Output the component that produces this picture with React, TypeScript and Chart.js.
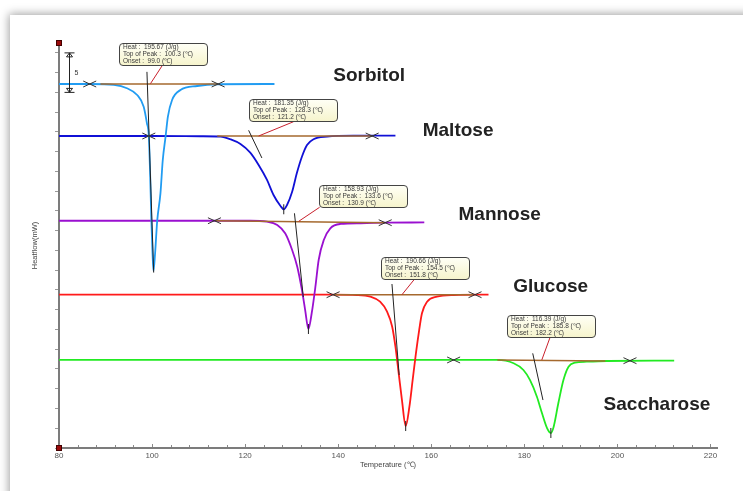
import React, { useEffect, useRef } from "react";
import { Chart, registerables } from "chart.js";

Chart.register(...registerables);

// ---------- data ----------
const sampleNames = ["Sorbitol", "Maltose", "Mannose", "Glucose", "Saccharose"];
const heatValues = ["195.67", "181.35", "158.93", "190.66", "116.39"];
const peakTemps = ["100.3", "128.3", "133.6", "154.5", "185.8"];
const onsetTemps = ["99.0", "121.2", "130.9", "151.8", "182.2"];

const sorbitolT = [80, 86.8, 91.8, 94.6, 96.8, 98.2, 98.9, 99.3, 99.6, 99.85, 100.1, 100.3, 100.65, 101.1, 101.8, 102.3, 102.9, 103.4, 104.3, 106.1, 109.7, 114.0, 126.3];
const sorbitolHF = [46.06, 46.06, 45.94, 45.52, 44.67, 43.19, 41.09, 39.48, 34.33, 28.85, 24.64, 22.4, 24.64, 28.73, 32.23, 36.45, 39.4, 41.93, 44.04, 45.3, 45.81, 46.03, 46.06];

const maltoseT = [80, 100, 110.4, 114.7, 116.8, 119.0, 121.1, 122.9, 124.7, 126.1, 127.6, 128.3, 129.0, 130.1, 131.1, 132.2, 133.3, 134.7, 137.6, 143.3, 152.3];
const maltoseHF = [39.48, 39.48, 39.45, 39.4, 39.07, 38.47, 37.37, 35.81, 33.92, 32.02, 30.63, 30.21, 30.75, 32.43, 34.76, 36.86, 38.34, 39.07, 39.4, 39.52, 39.52];

const mannoseT = [80, 110, 121.1, 124.7, 126.9, 128.6, 130.1, 131.2, 132.2, 132.9, 133.6, 134.3, 135.1, 135.8, 136.9, 138.3, 140.5, 144.8, 150.1, 158.5];
const mannoseHF = [28.76, 28.76, 28.76, 28.64, 28.22, 27.17, 25.06, 22.94, 20.0, 17.46, 15.06, 17.05, 20.41, 23.79, 26.32, 27.8, 28.35, 28.44, 28.51, 28.54];

const glucoseT = [80, 138.9, 144.0, 146.9, 149.0, 150.5, 151.6, 152.3, 153.0, 153.7, 154.5, 155.3, 156.0, 156.7, 157.4, 158.0, 159.1, 161.2, 164.8, 172.3];
const glucoseHF = [19.4, 19.4, 19.36, 19.15, 18.51, 17.25, 15.35, 12.82, 9.45, 6.07, 2.78, 5.23, 8.61, 11.98, 14.93, 17.05, 18.51, 19.15, 19.36, 19.4];

const saccharoseT = [80, 164.8, 174.1, 177.7, 179.8, 181.2, 182.7, 183.8, 184.9, 185.7, 186.3, 187.3, 188.4, 189.5, 190.9, 193.4, 197.7, 212.2];
const saccharoseHF = [11.14, 11.14, 11.14, 10.72, 9.87, 8.61, 6.49, 4.39, 2.49, 1.9, 2.7, 5.66, 8.61, 10.29, 10.79, 10.92, 11.01, 11.05];

const seriesT = [sorbitolT, maltoseT, mannoseT, glucoseT, saccharoseT];
const seriesHF = [sorbitolHF, maltoseHF, mannoseHF, glucoseHF, saccharoseHF];

const xMin = 80;
const xMax = 221.4;
const xStep = 4;
const xLabelStep = 20;
const yMin = 0;
const yMax = 51.25;
const yStep = 2.5;
const scaleBarMW = 5;

// ---------- styles / annotation geometry (data coordinates) ----------
const lineColors = ["#219cf2", "#1010d6", "#9a10d0", "#ff1a1a", "#22ea22"];

type Pt = [number, number];
interface Annot {
  markers: Pt[];
  base: [Pt, Pt];
  tangent: [Pt, Pt];
  leader: [Pt, Pt];
  box: Pt;
  tip: Pt | null;
  label: Pt;
}
const annots: Annot[] = [
  { markers: [[86.6, 46.06], [114.2, 46.06]], base: [[88.9, 46.06], [114.2, 46.06]], tangent: [[98.9, 47.6], [100.35, 22.2]], leader: [[102.37, 48.56], [99.65, 46.1]], box: [92.84, 51.21], tip: null, label: [138.94, 46.44] },
  { markers: [[99.3, 39.48], [147.3, 39.48]], base: [[114.0, 39.48], [147.3, 39.48]], tangent: [[120.75, 40.2], [123.6, 36.7]], leader: [[130.4, 41.29], [122.9, 39.48]], box: [120.76, 44.13], tip: [128.3, 30.21], label: [158.16, 39.42] },
  { markers: [[113.4, 28.76], [150.1, 28.51]], base: [[113.6, 28.76], [150.1, 28.51]], tangent: [[130.6, 29.7], [132.5, 19.11]], leader: [[136.0, 30.46], [131.5, 28.68]], box: [135.79, 33.28], tip: [133.6, 15.06], label: [165.85, 28.85] },
  { markers: [[138.9, 19.4], [169.4, 19.4]], base: [[139.0, 19.4], [169.0, 19.4]], tangent: [[151.55, 20.75], [153.1, 9.24]], leader: [[156.55, 21.48], [153.7, 19.4]], box: [149.19, 24.21], tip: [154.5, 2.78], label: [177.6, 19.8] },
  { markers: [[164.8, 11.14], [202.7, 11.05]], base: [[174.2, 11.14], [197.4, 11.0]], tangent: [[181.8, 11.98], [184.0, 6.07]], leader: [[185.5, 13.96], [183.75, 11.14]], box: [176.37, 16.83], tip: [185.7, 1.9], label: [197.03, 4.81] },
];

const overlayPlugin = {
  id: "dscOverlay",
  afterDatasetsDraw(chart: any) {
    const { ctx } = chart;
    const x = chart.scales.x;
    const y = chart.scales.y;
    const X = (t: number) => x.getPixelForValue(t);
    const Y = (v: number) => y.getPixelForValue(v);
    ctx.save();

    // x tick marks (inside)
    ctx.strokeStyle = "#8a8a8a";
    ctx.lineWidth = 1;
    x.ticks.forEach((tk: any) => {
      const px = Math.round(X(tk.value)) + 0.5;
      const len = tk.value % xLabelStep === 0 ? 3 : 2;
      ctx.beginPath();
      ctx.moveTo(px, y.bottom - 1);
      ctx.lineTo(px, y.bottom - 1 - len);
      ctx.stroke();
    });

    annots.forEach((a, i) => {
      // integration baseline
      ctx.strokeStyle = "#a5692e";
      ctx.lineWidth = 1.6;
      ctx.beginPath();
      ctx.moveTo(X(a.base[0][0]), Y(a.base[0][1]));
      ctx.lineTo(X(a.base[1][0]), Y(a.base[1][1]));
      ctx.stroke();

      // onset tangent
      ctx.strokeStyle = "#222";
      ctx.lineWidth = 1;
      ctx.beginPath();
      ctx.moveTo(X(a.tangent[0][0]), Y(a.tangent[0][1]));
      ctx.lineTo(X(a.tangent[1][0]), Y(a.tangent[1][1]));
      ctx.stroke();

      // peak tick
      if (a.tip) {
        const tx = X(a.tip[0]);
        const ty = Y(a.tip[1]);
        ctx.beginPath();
        ctx.moveTo(tx, ty - 5);
        ctx.lineTo(tx, ty + 5);
        ctx.stroke();
      }

      // leader
      ctx.strokeStyle = "#c8202c";
      ctx.lineWidth = 1;
      ctx.beginPath();
      ctx.moveTo(X(a.leader[0][0]), Y(a.leader[0][1]));
      ctx.lineTo(X(a.leader[1][0]), Y(a.leader[1][1]));
      ctx.stroke();

      // markers
      ctx.strokeStyle = "#333";
      ctx.lineWidth = 1;
      a.markers.forEach((m) => {
        const mx = X(m[0]);
        const my = Y(m[1]);
        ctx.beginPath();
        ctx.moveTo(mx - 6.5, my - 3);
        ctx.lineTo(mx + 6.5, my + 3);
        ctx.moveTo(mx - 6.5, my + 3);
        ctx.lineTo(mx + 6.5, my - 3);
        ctx.stroke();
      });

      // info box
      const bx = Math.round(X(a.box[0])) + 0.5;
      const by = Math.round(Y(a.box[1])) + 0.5;
      const bw = 88;
      const bh = 22;
      const g = ctx.createLinearGradient(0, by, 0, by + bh);
      g.addColorStop(0, "#fffff6");
      g.addColorStop(1, "#f6f4cc");
      ctx.fillStyle = g;
      ctx.strokeStyle = "#444";
      ctx.beginPath();
      ctx.roundRect(bx, by, bw, bh, 3.5);
      ctx.fill();
      ctx.stroke();
      ctx.fillStyle = "#3a3a3a";
      ctx.font = "6.5px 'Liberation Sans', Arial, sans-serif";
      ctx.textBaseline = "middle";
      ctx.textAlign = "left";
      ctx.fillText("Heat :  " + heatValues[i] + " (J/g)", bx + 3.5, by + 4.2);
      ctx.fillText("Top of Peak :  " + peakTemps[i] + " (\u2103)", bx + 3.5, by + 11);
      ctx.fillText("Onset :  " + onsetTemps[i] + " (\u2103)", bx + 3.5, by + 17.8);

      // sample label
      ctx.fillStyle = "#222";
      ctx.font = "bold 19px 'Liberation Sans', Arial, sans-serif";
      ctx.textBaseline = "alphabetic";
      ctx.fillText(sampleNames[i], X(a.label[0]), Y(a.label[1]));
    });

    // scale bar (5 mW)
    const sx = Math.round(X(82.1)) + 0.5;
    const sTop = Y(yMax - 1.25);
    const sBot = Y(yMax - 1.25 - scaleBarMW);
    ctx.strokeStyle = "#222";
    ctx.lineWidth = 1;
    ctx.beginPath();
    ctx.moveTo(sx, sTop);
    ctx.lineTo(sx, sBot);
    ctx.moveTo(sx - 5, sTop);
    ctx.lineTo(sx + 5, sTop);
    ctx.moveTo(sx - 5, sBot);
    ctx.lineTo(sx + 5, sBot);
    ctx.stroke();
    ctx.beginPath();
    ctx.moveTo(sx, sTop);
    ctx.lineTo(sx - 3, sTop + 4);
    ctx.lineTo(sx + 3, sTop + 4);
    ctx.closePath();
    ctx.moveTo(sx, sBot);
    ctx.lineTo(sx - 3, sBot - 4);
    ctx.lineTo(sx + 3, sBot - 4);
    ctx.closePath();
    ctx.stroke();
    ctx.fillStyle = "#333";
    ctx.font = "7px 'Liberation Sans', Arial, sans-serif";
    ctx.textBaseline = "middle";
    ctx.fillText(String(scaleBarMW), sx + 5, (sTop + sBot) / 2);

    // red corner squares on the y axis
    ctx.fillStyle = "#9a0a0a";
    ctx.strokeStyle = "#400";
    [yMax, yMin].forEach((v) => {
      const cx = X(xMin);
      const cy = Y(v);
      ctx.fillRect(cx - 3, cy - 3, 6, 6);
      ctx.strokeRect(cx - 2.5, cy - 2.5, 5, 5);
    });
    ctx.restore();
  },
};

export default function App() {
  const ref = useRef<HTMLCanvasElement | null>(null);

  useEffect(() => {
    if (!ref.current) return;
    const datasets = sampleNames.map((name, i) => ({
      label: name,
      data: seriesT[i].map((t, k) => ({ x: t, y: seriesHF[i][k] })),
      borderColor: lineColors[i],
      backgroundColor: lineColors[i],
      borderWidth: 1.8,
      pointRadius: 0,
      fill: false,
      cubicInterpolationMode: "monotone" as const,
    }));
    const chart = new Chart(ref.current, {
      type: "line",
      data: { datasets },
      options: {
        animation: false,
        responsive: false,
        maintainAspectRatio: false,
        devicePixelRatio: 1,
        layout: { padding: { left: 10, top: 43, right: 26, bottom: 0 } },
        plugins: { legend: { display: false }, tooltip: { enabled: false } },
        scales: {
          x: {
            type: "linear",
            min: xMin,
            max: xMax,
            afterFit: (s: any) => {
              s.height = 43;
            },
            ticks: {
              stepSize: xStep,
              includeBounds: false,
              autoSkip: false,
              maxRotation: 0,
              padding: 3,
              color: "#555",
              font: { size: 8, family: "'Liberation Sans', Arial, sans-serif" },
              callback: (v: any) => (Number(v) % xLabelStep === 0 ? String(v) : ""),
            },
            grid: { drawOnChartArea: false, drawTicks: false, display: false },
            border: { display: true, color: "#7c7c7c", width: 2 },
            title: {
              display: true,
              text: "Temperature (\u2103)",
              color: "#444",
              font: { size: 7.5, family: "'Liberation Sans', Arial, sans-serif" },
              padding: { top: 0, bottom: 22 },
            },
          },
          y: {
            type: "linear",
            min: yMin,
            max: yMax,
            afterFit: (s: any) => {
              s.width = 49;
            },
            ticks: { display: false, stepSize: yStep, includeBounds: false },
            grid: { drawOnChartArea: false, drawTicks: true, tickLength: 4, color: "#9a9a9a", lineWidth: 1 },
            border: { display: true, color: "#7c7c7c", width: 2 },
            title: {
              display: true,
              text: "Heatflow(mW)",
              color: "#444",
              font: { size: 7.5, family: "'Liberation Sans', Arial, sans-serif" },
              padding: { top: 20, bottom: 0 },
            },
          },
        },
      },
      plugins: [overlayPlugin],
    });
    return () => chart.destroy();
  }, []);

  return (
    <div style={{ position: "absolute", left: 0, top: 0, width: 743, height: 491, overflow: "hidden", background: "#ffffff" }}>
      <div
        style={{
          position: "absolute",
          left: 10,
          top: 15,
          width: 760,
          height: 500,
          background: "#ffffff",
          boxShadow: "0 0 9px 1px rgba(0,0,0,0.38)",
        }}
      />
      <canvas ref={ref} width={743} height={491} style={{ position: "absolute", left: 0, top: 0, width: 743, height: 491 }} />
    </div>
  );
}
